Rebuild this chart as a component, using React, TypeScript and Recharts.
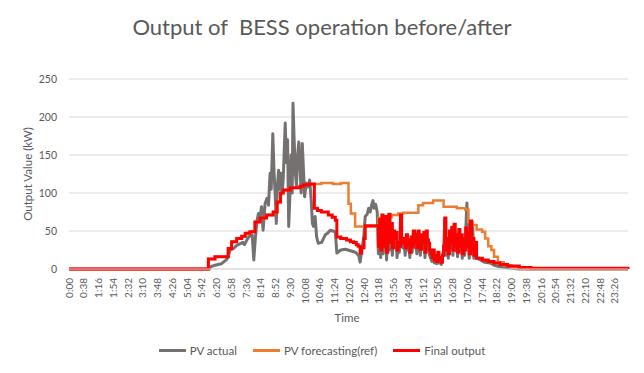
import React from 'react';
import { LineChart, Line, XAxis, YAxis, CartesianGrid, Legend } from 'recharts';

const W = 644;
const H = 373;
const TXT = '#595959';
const FONT = 'Lato, "Open Sans", sans-serif';

const timeLabels = ['0:00','0:38','1:16','1:54','2:32','3:10','3:48','4:26','5:04','5:42','6:20','6:58','7:36','8:14','8:52','9:30','10:08','10:46','11:24','12:02','12:40','13:18','13:56','14:34','15:12','15:50','16:28','17:06','17:44','18:22','19:00','19:38','20:16','20:54','21:32','22:10','22:48','23:26'];
const yTicks = [0, 50, 100, 150, 200, 250];

// minutes of day / kW
const actualTimes = [0,362,365,376,393,405,410,415,424,432,440,448,452,458,464,472,476,480,484,488,492,496,500,505,510,514,518,521,525,528,531,534,537,540,543,546,549,552,557,560,563,566,569,572,575,577,580,583,586,589,592,595,598,601,604,607,611,615,620,624,627,630,634,638,642,651,660,666,673,686,690,700,712,725,738,746,750,754,759,763,768,772,776,780,783,786,790,794,
797,800,803,806,809,812,815,818,821,824,827,830,833,836,839,842,845,848,851,854,857,860,863,866,869,872,875,878,881,884,887,890,893,896,899,902,905,908,911,914,917,920,923,926,929,932,935,938,941,944,947,950,953,956,959,962,965,968,971,974,977,980,983,986,989,992,995,998,1001,1004,1007,1010,1013,1016,1019,1022,1025,1028,1031,1034,1037,1040,1043,1046,1050,1060,1070,1085,1095,1110,1125,1140,1160,1440];
const actualValues = [0,0,3,5,7,12,16,25,27,31,33,35,32,38,43,45,12,40,62,73,68,82,51,86,93,84,126,105,178,130,100,60,110,130,105,126,100,120,192,140,170,56,95,150,100,218,170,126,110,150,167,135,100,165,130,95,113,108,117,90,60,56,69,42,34,35,45,47,51,49,21,25,26,24,22,18,9,24,40,69,72,80,75,85,90,80,85,75,
20,60,15,68,20,50,65,12,40,70,25,55,18,45,30,45,15,30,22,68,30,28,35,18,40,25,35,15,38,22,48,28,40,20,48,32,18,42,28,45,15,48,30,28,18,14,10,20,8,14,7,18,8,12,6,14,25,65,18,35,14,45,28,52,18,56,24,40,16,48,24,40,14,35,18,50,87,42,14,60,20,55,14,30,15,12,9,8,5,3,2,1,0,0];

const forecastTimes = [0,359,376,410,419,432,445,454,466,479,492,509,526,536,545,552,570,595,604,620,650,680,700,720,726,737,797,806,831,848,861,900,912,938,965,999,1021,1029,1040,1050,1064,1072,1080,1088,1095,1105,1120,1140,1160,1180,1440];
const forecastValues = [0,13,16,27,36,40,43,47,49,62,67,71,75,88,100,104,107,109,111,112,113,112,113,86,73,56,67,68,71,73,74,84,87,90,82,80,78,62,58,52,49,40,30,25,16,9,5,2,1,0,0];

const finalTimes = [0,359,376,410,419,432,445,454,466,479,492,509,526,536,545,552,570,595,604,620,632,640,650,668,678,686,690,700,715,725,733,740,745,750,754,760,763,
797,800,803,806,809,812,815,818,821,824,827,830,833,836,839,842,845,848,851,854,857,860,863,866,869,872,875,878,881,884,887,890,893,896,899,902,905,908,911,914,917,920,923,926,929,932,935,938,941,944,947,950,953,956,959,962,965,968,971,974,977,980,983,986,989,992,995,998,1001,1004,1007,1010,1013,1016,1019,1022,1025,1028,1031,1034,1037,1040,1043,1046,1050,1065,1080,1095,1110,1130,1160,1190,1440];
const finalValues = [0,13,16,27,36,40,43,47,49,62,67,71,75,88,100,104,107,109,111,112,80,77,75,71,68,64,42,40,38,36,35,32,30,21,28,40,57,
30,65,25,71,30,55,69,22,45,72,35,60,28,50,40,48,25,35,30,71,40,34,40,28,45,32,38,22,42,30,50,35,45,28,50,40,26,45,35,48,22,50,38,34,25,20,15,25,12,18,10,22,12,15,9,18,30,67,25,40,20,50,35,55,25,59,30,45,22,52,30,45,20,40,25,54,30,48,20,63,25,40,18,35,14,12,10,8,6,4,2,1,0,0];

const zip = (ts: number[], vs: number[]) => ts.map((t, i) => ({ t, v: vs[i] }));
const actualData = zip(actualTimes, actualValues);
const forecastData = zip(forecastTimes, forecastValues);
const finalData = zip(finalTimes, finalValues);

const toMin = (s: string) => { const [h, m] = s.split(':'); return Number(h) * 60 + Number(m); };
const xTicks = timeLabels.map(toMin);
const fmt = (m: number) => `${Math.floor(m / 60)}:${String(m % 60).padStart(2, '0')}`;

const series = [
  { name: 'PV actual', color: '#767171' },
  { name: 'PV forecasting(ref)', color: '#ED7D31' },
  { name: 'Final output', color: '#FF0000' },
];

const XTick = (props: any) => {
  const { x, y, payload } = props;
  return (
    <text x={x} y={y} transform={`rotate(-90, ${x}, ${y})`} textAnchor="end" dy="0.35em" fill={TXT} fontSize={10} fontFamily={FONT}>
      {fmt(payload.value)}
    </text>
  );
};

const LegendContent = () => (
  <div style={{ display: 'flex', justifyContent: 'center', alignItems: 'center', fontFamily: FONT, fontSize: 11.5, color: TXT }}>
    {series.map((s, i) => (
      <div key={s.name} style={{ display: 'flex', alignItems: 'center', marginLeft: i ? 16 : 0 }}>
        <div style={{ width: 27, height: 3, background: s.color, marginRight: 4 }} />
        <span>{s.name}</span>
      </div>
    ))}
  </div>
);

export default function App() {
  return (
    <div style={{ position: 'absolute', left: 0, top: 0, width: W, height: H, background: '#fff' }}>
      <div style={{ position: 'absolute', left: 0, top: 13, width: W, textAlign: 'center', fontFamily: FONT, fontSize: 22, color: TXT, whiteSpace: 'pre' }}>
        {'Output of  BESS operation before/after'}
      </div>
      <div style={{ position: 'absolute', left: 28 - 60, top: 174 - 8, width: 120, height: 16, textAlign: 'center', fontFamily: FONT, fontSize: 11.5, color: TXT, transform: 'rotate(-90deg)', lineHeight: '16px' }}>
        Output Value (kW)
      </div>
      <div style={{ position: 'absolute', left: 347 - 30, top: 318 - 8, width: 60, height: 16, textAlign: 'center', fontFamily: FONT, fontSize: 11.5, color: TXT, lineHeight: '16px' }}>
        Time
      </div>
      <LineChart width={W} height={H} margin={{ top: 79, right: 16, left: 19, bottom: 64 }}>
        <CartesianGrid vertical={false} stroke="#D9D9D9" strokeWidth={1} />
        <XAxis
          type="number"
          dataKey="t"
          domain={[0, 1440]}
          ticks={xTicks}
          interval={0}
          tick={<XTick />}
          tickLine={false}
          tickSize={6}
          tickMargin={3}
          height={40}
          axisLine={{ stroke: '#D9D9D9' }}
          allowDuplicatedCategory={false}
        />
        <YAxis
          type="number"
          domain={[0, 250]}
          ticks={yTicks}
          width={50}
          axisLine={false}
          tickLine={false}
          tickSize={6}
          tickMargin={6}
          tick={{ fill: TXT, fontSize: 10.5, fontFamily: FONT }}
        />
        <Legend
          verticalAlign="middle"
          align="center"
          layout="horizontal"
          wrapperStyle={{ position: 'absolute', top: 344, left: 0, width: W }}
          content={<LegendContent />}
        />
        <Line data={actualData} dataKey="v" name="PV actual" type="linear" stroke="#767171" strokeWidth={3} dot={false} isAnimationActive={false} strokeLinejoin="round" />
        <Line data={forecastData} dataKey="v" name="PV forecasting(ref)" type="stepAfter" stroke="#ED7D31" strokeWidth={2.5} dot={false} isAnimationActive={false} />
        <Line data={finalData} dataKey="v" name="Final output" type="stepAfter" stroke="#FF0000" strokeWidth={3} dot={false} isAnimationActive={false} />
      </LineChart>
    </div>
  );
}
